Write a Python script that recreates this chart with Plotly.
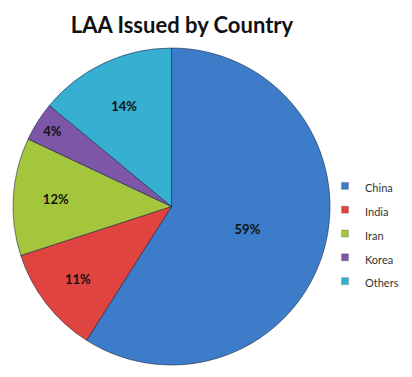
import plotly.graph_objects as go

countries = ["China", "India", "Iran", "Korea", "Others"]
shares = [59, 11, 12, 4, 14]
colors = ["#3d7cc9", "#df4440", "#a4c63c", "#7e56a8", "#36afd0"]

fig = go.Figure()
fig.add_trace(go.Pie(
    labels=countries, values=shares, sort=False, direction="clockwise", rotation=0,
    marker=dict(colors=colors, line=dict(color="rgba(20,30,60,0.55)", width=1)),
    texttemplate="<b>%{percent:.0%}</b>", textposition="inside",
    insidetextorientation="horizontal",
    insidetextfont=dict(family="Lato", size=13, color="#111111"),
    showlegend=False, hoverinfo="label+percent",
    domain=dict(x=[13/412, 330/412], y=[1-365/377, 1-48/377]),
))
for name, col in zip(countries, colors):
    fig.add_trace(go.Scatter(
        x=[None], y=[None], mode="markers",
        name='<span style="font-size:11px">%s</span>' % name,
        marker=dict(symbol="square", size=7, color=col, line=dict(color="rgba(0,0,0,0.35)", width=0.5)),
        showlegend=True,
    ))

fig.update_layout(
    width=412, height=377,
    margin=dict(l=0, r=0, t=0, b=0),
    paper_bgcolor="white", plot_bgcolor="white",
    title=dict(text="<b>LAA Issued by Country</b>", x=182/412, xanchor="center",
               y=1-25/377, yanchor="middle",
               font=dict(family="Lato", size=22, color="#111111")),
    xaxis=dict(visible=False), yaxis=dict(visible=False),
    legend=dict(x=325/412, y=1-169/377, xanchor="left", yanchor="top",
                font=dict(family="Lato", size=16, color="#333333"),
                tracegroupgap=0, bgcolor="rgba(0,0,0,0)"),
)
fig.write_html("out.html", config={"displayModeBar": False},
               post_script="document.body.style.margin='0px';")
